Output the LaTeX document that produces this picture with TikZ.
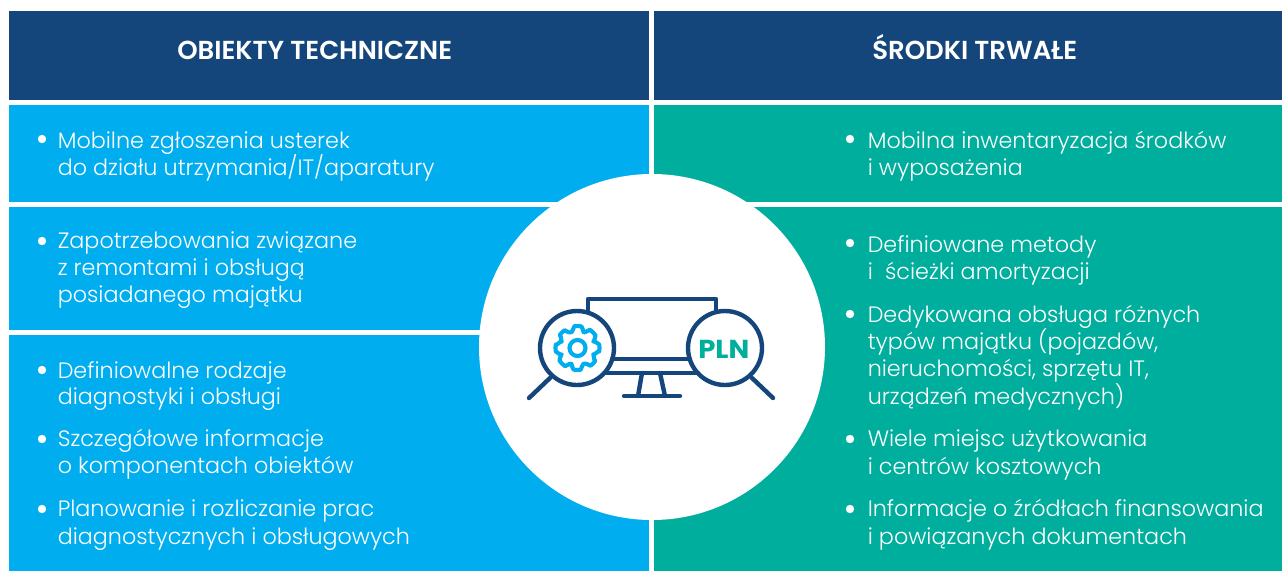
\documentclass[tikz,border=0pt]{standalone}
\usepackage{fontspec}
\setmainfont{Poppins}[UprightFont=* Light,BoldFont=* SemiBold]
\newfontfamily\plnfont{Poppins Bold}
\definecolor{navy}{HTML}{15467B}
\definecolor{sky}{HTML}{00AEEF}
\definecolor{teal2}{HTML}{00AE9D}
\newcommand{\tl}[4]{\node[txt] (#1) at (#2,#3) {#4};}
\newcommand{\bl}[3]{\fill[white] (#2,#3) circle (4.2) coordinate (#1);}
\begin{document}
\begin{tikzpicture}[x=0.75pt,y=-0.75pt,
 txt/.style={anchor=base west,inner sep=0,text=white,font=\fontsize{16.7pt}{20pt}\selectfont},
 head/.style={anchor=base west,inner sep=0,text=white,font=\fontsize{19.5pt}{20pt}\bfseries\selectfont},
 ico/.style={draw=navy,line width=3.3pt,line cap=round,line join=round},
 gear/.style={draw=sky,line width=3.1pt,line join=round}]
\useasboundingbox (0,0) rectangle (1282,571);
\fill[navy] (9,11) rectangle (649,100);
\fill[navy] (654,11) rectangle (1282,100);
\fill[sky] (9,105) rectangle (649,202);
\fill[sky] (9,207) rectangle (649,330);
\fill[sky] (9,335) rectangle (649,571);
\fill[teal2] (654,105) rectangle (1282,202);
\fill[teal2] (654,207) rectangle (1282,571);
\fill[white] (652,347) circle (173);
\node[head] (h1) at (177,59.5) {OBIEKTY TECHNICZNE};
\node[head] (h2) at (872,59) {ŚRODKI TRWAŁE};
\bl{b1}{42}{139}\tl{a1}{57.5}{148}{Mobilne zgłoszenia usterek}
\tl{a2}{57.5}{175}{do działu utrzymania/IT/aparatury}
\bl{b2}{42}{241}\tl{a3}{57.5}{248}{Zapotrzebowania związane}
\tl{a4}{57.5}{275}{z remontami i obsługą}
\tl{a5}{57.5}{302}{posiadanego majątku}
\bl{b3}{42}{370}\tl{a6}{57.5}{378}{Definiowalne rodzaje}
\tl{a7}{57.5}{404}{diagnostyki i obsługi}
\bl{b4}{42}{439}\tl{a8}{57.5}{446}{Szczegółowe informacje}
\tl{a9}{57.5}{473}{o komponentach obiektów}
\bl{b5}{42}{509}\tl{a10}{57.5}{516}{Planowanie i rozliczanie prac}
\tl{a11}{57.5}{544}{diagnostycznych i obsługowych}
\bl{c1}{850}{139}\tl{d1}{867.5}{148}{Mobilna inwentaryzacja środków}
\tl{d2}{867.5}{175}{i wyposażenia}
\bl{c2}{850}{243}\tl{d3}{867.5}{252}{Definiowane metody}
\tl{d4}{867.5}{279}{i\ \ ścieżki amortyzacji}
\bl{c3}{850}{314}\tl{d5}{867.5}{322}{Dedykowana obsługa różnych}
\tl{d6}{867.5}{349}{typów majątku (pojazdów,}
\tl{d7}{867.5}{376}{nieruchomości, sprzętu IT,}
\tl{d8}{867.5}{404}{urządzeń medycznych)}
\bl{c4}{850}{439}\tl{d9}{867.5}{446}{Wiele miejsc użytkowania}
\tl{d10}{867.5}{474}{i centrów kosztowych}
\bl{c5}{850}{509}\tl{d11}{867.5}{516}{Informacje o źródłach finansowania}
\tl{d12}{867.5}{544}{i powiązanych dokumentach}
% icon
\draw[ico] (588,312) -- (588,299) -- (716,299) -- (716,312);
\draw[ico] (612,359) -- (690,359);
\draw[ico] (606,373) -- (698,373);
\draw[ico] (642,373) -- (638,396);
\draw[ico] (660,373) -- (665,396);
\draw[ico] (624,396) -- (680,396);
\draw[ico] (577,348) circle (37);
\draw[ico] (725,348) circle (37);
\draw[ico] (550,378) -- (529,398);
\draw[ico] (752,378) -- (773,398);
\begin{scope}[shift={(577.5,348)}]
\path[gear] (0,0) circle (8);
\path[gear] (0:22)
 \foreach \a in {0,45,...,315}{
   -- (\a+9:22) to[out=\a+100,in=\a-20,looseness=0.6] (\a+22.5:17) to[out=\a+70,in=\a+190,looseness=0.6] (\a+36:22) -- (\a+45:22)
 } -- cycle;
\end{scope}
\node[anchor=base west,inner sep=0,text=teal2,font=\fontsize{19.5pt}{20pt}\plnfont] (pln) at (698,358) {\scalebox{1.06}[1]{PLN}};
\end{tikzpicture}
\end{document}
